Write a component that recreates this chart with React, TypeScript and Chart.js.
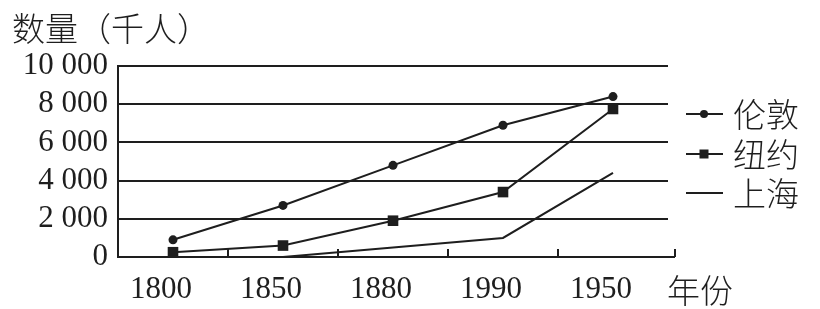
import React, { useEffect, useRef } from "react";
import { Chart, registerables } from "chart.js";

Chart.register(...registerables);

const categories = ["1800", "1850", "1880", "1990", "1950"];
const londonValues = [900, 2700, 4800, 6900, 8400];
const newYorkValues = [250, 600, 1900, 3400, 7750];
const shanghaiValues = [null, 0, 500, 1000, 4400];
const seriesNames = ["伦敦", "纽约", "上海"];
const yTitle = "数量（千人）";
const xTitle = "年份";

const INK = "#1e1e1e";
const SERIF = "'Liberation Serif', 'Times New Roman', serif";
const CJK = "'Noto Sans CJK SC', 'Noto Sans', sans-serif";

function fmt(v: number): string {
  const s = String(Math.round(v));
  return s.replace(/\B(?=(\d{3})+(?!\d))/g, " ");
}

const decorPlugin = {
  id: "decor",
  afterDraw(chart: any) {
    const { ctx, chartArea } = chart;
    const xs = chart.scales.x;
    const n = categories.length;
    const bin = (chartArea.right - chartArea.left) / n;
    const bottom = chartArea.bottom;
    ctx.save();
    ctx.strokeStyle = INK;
    ctx.lineWidth = 2;
    const ext = chartArea.right + 7;
    ctx.beginPath();
    ctx.moveTo(chartArea.right, bottom);
    ctx.lineTo(ext, bottom);
    for (let i = 1; i < n; i++) {
      const x = xs.getPixelForValue(i) - bin / 2;
      ctx.moveTo(x, bottom);
      ctx.lineTo(x, bottom - 8);
    }
    ctx.moveTo(ext, bottom);
    ctx.lineTo(ext, bottom - 8);
    ctx.stroke();

    ctx.fillStyle = INK;
    ctx.font = `300 33px ${CJK}`;
    ctx.textBaseline = "middle";
    ctx.textAlign = "left";
    ctx.fillText(yTitle, 12, 28);
    ctx.fillText(xTitle, 667, 290);

    const rows = [114, 154, 193];
    chart.data.datasets.forEach((ds: any, i: number) => {
      const y = rows[i];
      ctx.strokeStyle = INK;
      ctx.lineWidth = 2;
      ctx.beginPath();
      ctx.moveTo(686, y);
      ctx.lineTo(723, y);
      ctx.stroke();
      ctx.fillStyle = INK;
      if (ds.pointStyle === "circle" && ds.pointRadius > 0) {
        ctx.beginPath();
        ctx.arc(704, y, 4, 0, Math.PI * 2);
        ctx.fill();
      } else if (ds.pointStyle === "rect" && ds.pointRadius > 0) {
        ctx.fillRect(699.5, y - 4.5, 9, 9);
      }
      ctx.font = `300 33px ${CJK}`;
      ctx.textBaseline = "middle";
      ctx.fillText(ds.label, 733, y);
    });
    ctx.restore();
  },
};

export default function App() {
  const ref = useRef<HTMLCanvasElement | null>(null);
  useEffect(() => {
    if (!ref.current) return;
    const chart = new Chart(ref.current, {
      type: "line",
      data: {
        labels: categories,
        datasets: [
          {
            label: seriesNames[0],
            data: londonValues,
            borderColor: INK,
            backgroundColor: INK,
            borderWidth: 2,
            pointStyle: "circle",
            pointRadius: 4.5,
            pointBorderWidth: 0,
            clip: false,
          },
          {
            label: seriesNames[1],
            data: newYorkValues,
            borderColor: INK,
            backgroundColor: INK,
            borderWidth: 2,
            pointStyle: "rect",
            pointRadius: 7.5,
            pointBorderWidth: 0,
            clip: false,
          },
          {
            label: seriesNames[2],
            data: shanghaiValues,
            borderColor: INK,
            backgroundColor: INK,
            borderWidth: 2,
            pointStyle: "line",
            pointRadius: 0,
            clip: false,
          },
        ],
      } as any,
      options: {
        animation: false,
        responsive: false,
        events: [],
        layout: { padding: { top: 66, right: 152, left: 0, bottom: 0 } },
        plugins: { legend: { display: false }, tooltip: { enabled: false } },
        scales: {
          x: {
            type: "category",
            offset: true,
            grid: { display: false, drawTicks: false },
            border: { display: true, color: INK, width: 2 },
            ticks: {
              color: INK,
              font: { family: SERIF, size: 31 },
              padding: 14,
              labelOffset: -12,
              maxRotation: 0,
              autoSkip: false,
            },
            afterFit(scale: any) {
              scale.height = 52;
            },
          },
          y: {
            min: 0,
            max: 10000,
            ticks: {
              stepSize: 2000,
              autoSkip: false,
              color: INK,
              font: { family: SERIF, size: 31 },
              padding: 10,
              callback: (v: any) => fmt(Number(v)),
            },
            grid: { color: INK, lineWidth: 2, drawTicks: false },
            border: { display: true, color: INK, width: 2 },
            afterFit(scale: any) {
              scale.width = 118;
            },
          },
        },
      } as any,
      plugins: [decorPlugin],
    });
    return () => chart.destroy();
  }, []);
  return (
    <div style={{ position: "fixed", left: 0, top: 0, width: 820, height: 309, background: "#fff" }}>
      <canvas ref={ref} width={820} height={309} />
    </div>
  );
}
